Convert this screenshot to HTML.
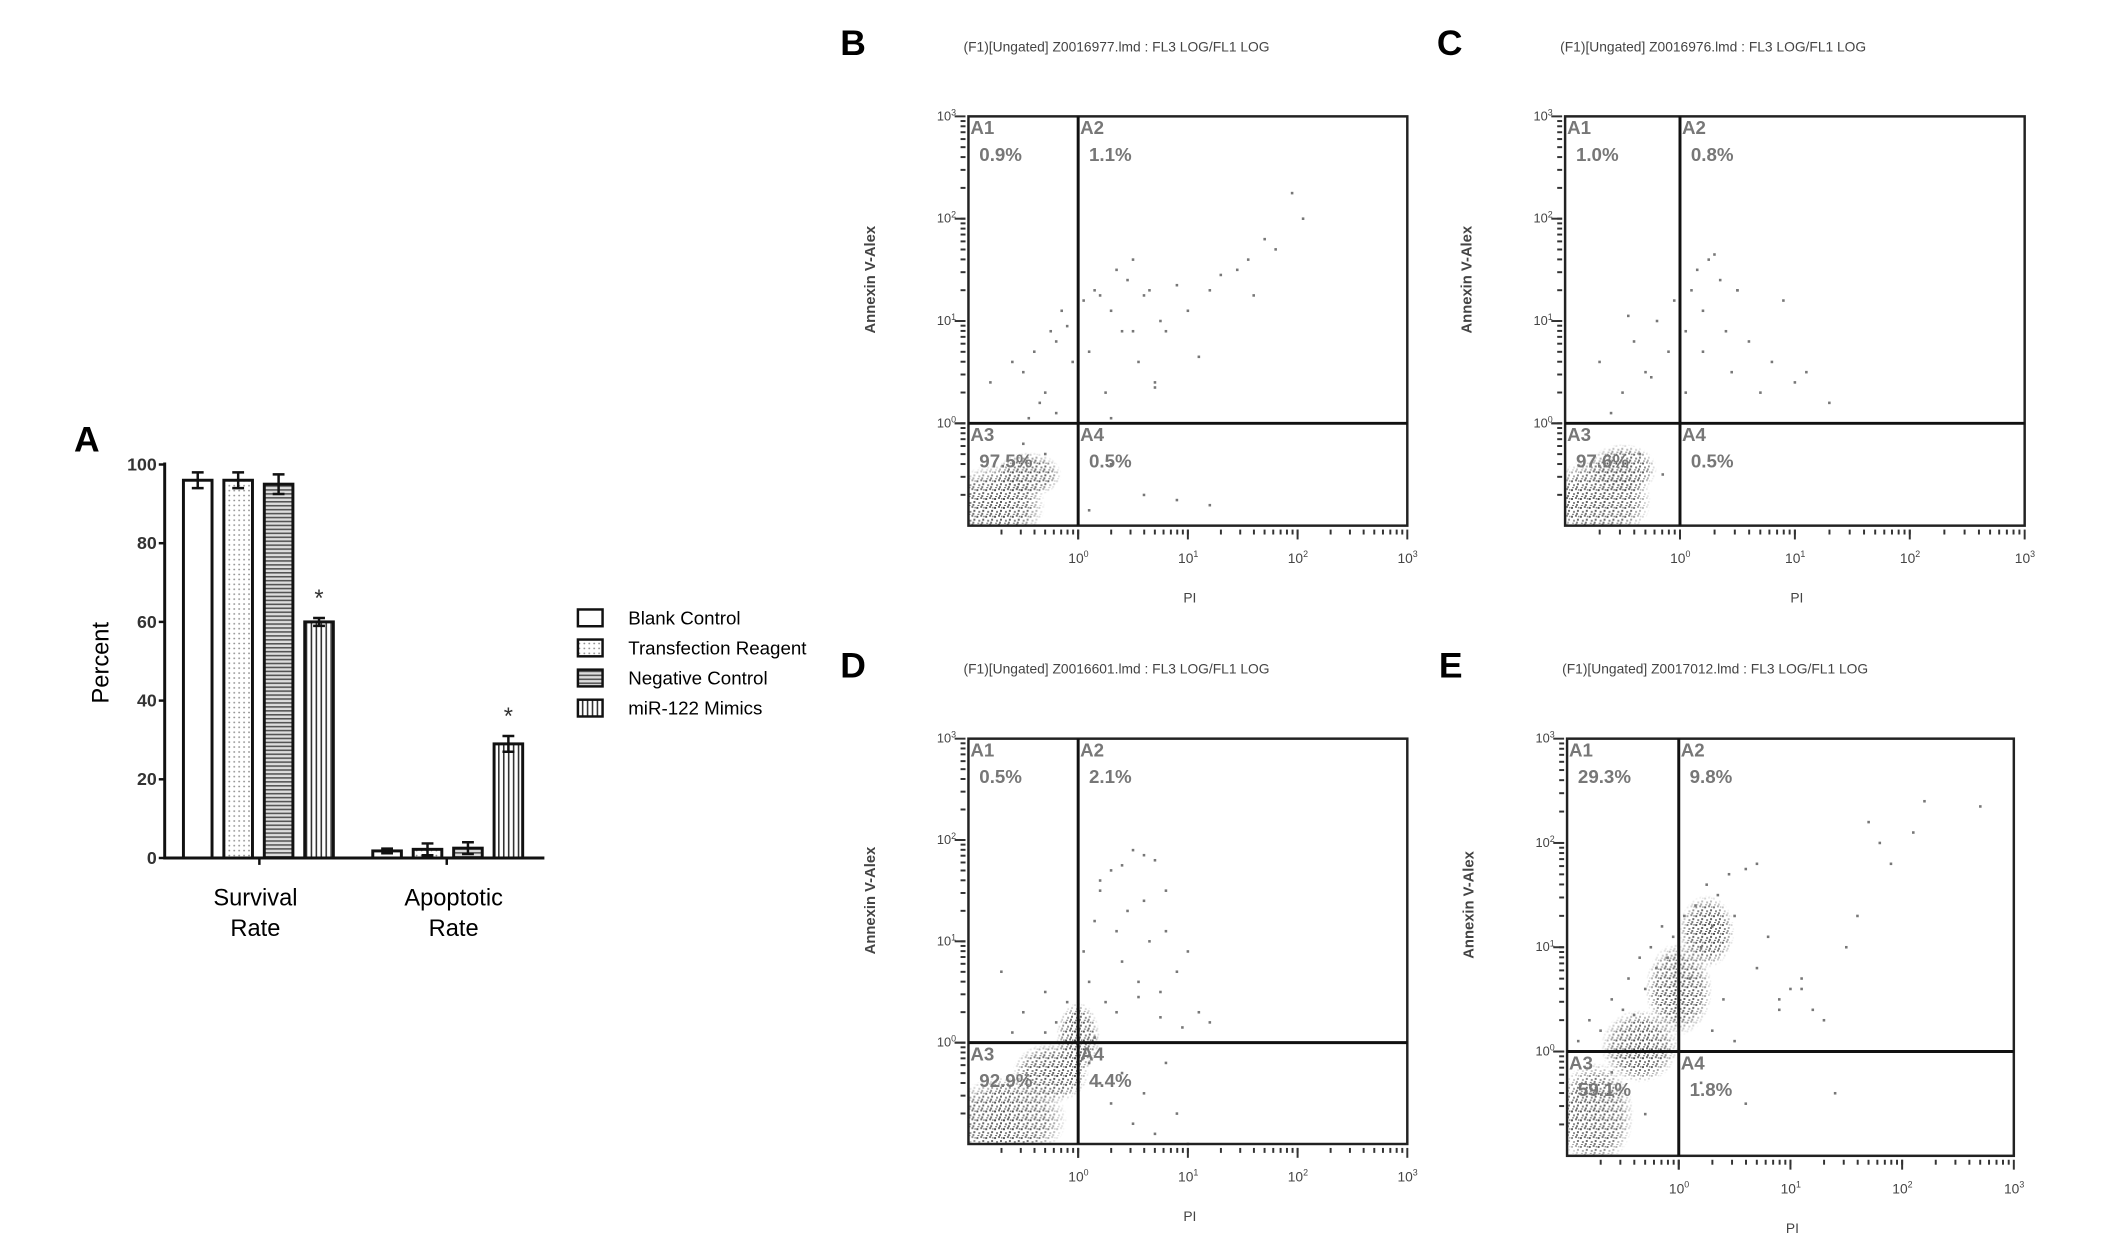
<!DOCTYPE html>
<html><head><meta charset="utf-8"><style>
body{margin:0;background:#fff;}
svg{display:block;}
text{font-family:"Liberation Sans",sans-serif;}
</style></head><body>
<svg id="fig" width="2126" height="1259" viewBox="0 0 2126 1259" xmlns="http://www.w3.org/2000/svg">
<defs>
<pattern id="pDots" width="5" height="5" patternUnits="userSpaceOnUse"><rect width="5" height="5" fill="#fff"/><circle cx="2.5" cy="2.5" r="0.9" fill="#888"/></pattern>
<pattern id="pHoriz" width="6" height="4" patternUnits="userSpaceOnUse"><rect width="6" height="4" fill="#ddd"/><rect y="0" width="6" height="1.6" fill="#555"/></pattern>
<pattern id="pVert" width="5" height="6" patternUnits="userSpaceOnUse"><rect width="5" height="6" fill="#fff"/><rect x="0" width="1.6" height="6" fill="#333"/></pattern>
<pattern id="speck" width="9" height="9" patternUnits="userSpaceOnUse"><rect x="0" y="1" width="2" height="2" fill="#444"/><rect x="4" y="0" width="2" height="2" fill="#666"/><rect x="6" y="4" width="2" height="2" fill="#555"/><rect x="2" y="5" width="2" height="2" fill="#777"/><rect x="1" y="8" width="2" height="1" fill="#555"/><rect x="5" y="7" width="2" height="2" fill="#666"/><rect x="7" y="1" width="1.5" height="1.5" fill="#777"/></pattern>
<radialGradient id="blobMask"><stop offset="0" stop-color="#fff" stop-opacity="1"/><stop offset="0.65" stop-color="#fff" stop-opacity="0.85"/><stop offset="1" stop-color="#fff" stop-opacity="0"/></radialGradient>
</defs>
<g transform="scale(0.9862)">
<g id="barChart"></g>
<g id="flow"></g>
</g>
</svg>
<script>
const NS="http://www.w3.org/2000/svg";
function mk(tag,attrs,parent,txt){const e=document.createElementNS(NS,tag);for(const k in attrs)e.setAttribute(k,attrs[k]);if(txt!==undefined)e.textContent=txt;parent.appendChild(e);return e;}

// ---------- Bar chart data ----------
const groups=["Survival Rate","Apoptotic Rate"];
const seriesNames=["Blank Control","Transfection Reagent","Negative Control","miR-122 Mimics"];
const survivalVals=[96,96,95,60];
const survivalErr=[2,2,2.5,1];
const apoptoticVals=[1.8,2.2,2.5,29];
const apoptoticErr=[0.6,1.5,1.5,2];
const yTicks=[0,20,40,60,80,100];
const sigFlags=[false,false,false,true];

const bc=document.getElementById('barChart');
const fills=["#fff","url(#pDots)","url(#pHoriz)","url(#pVert)"];
const X0=167,X1=552,Y0=870,Y100=471;
function ys(v){return Y0-(v/100)*(Y0-Y100);}
const groupStart=[186,378],barW=29,barStep=41;
mk('text',{x:75,y:458,'font-family':'Liberation Serif','font-size':36,'font-weight':'bold'},bc,'A');
const vals=[survivalVals,apoptoticVals],errs=[survivalErr,apoptoticErr];
vals.forEach((arr,g)=>{arr.forEach((v,i)=>{
  const x=groupStart[g]+i*barStep;
  const r=mk('rect',{x:x,y:ys(v),width:barW,height:Y0-ys(v),fill:fills[i],stroke:'#111','stroke-width':3},bc);
  
  
  const cx=x+barW/2,e=errs[g][i];
  const eb=mk('path',{d:`M${cx},${ys(v+e)}V${ys(v-e)}M${cx-6},${ys(v+e)}H${cx+6}M${cx-6},${ys(v-e)}H${cx+6}`,stroke:'#111','stroke-width':2.5,fill:'none'},bc);
  
  
  if(sigFlags[i]){const s=mk('text',{x:cx,y:ys(v+e)-12,'text-anchor':'middle','font-size':24,fill:'#333'},bc,'*');
    }
});});
mk('path',{d:`M${X0},${Y100-2}V${Y0}H${X1}`,stroke:'#111','stroke-width':3,fill:'none'},bc);
yTicks.forEach(t=>{mk('line',{x1:X0-6,x2:X0,y1:ys(t),y2:ys(t),stroke:'#111','stroke-width':2.5},bc);
  const tl=mk('text',{x:X0-8,y:ys(t)+6,'text-anchor':'end','font-size':18,'font-weight':'bold',fill:'#333'},bc,String(t));
  });
[263,453].forEach(x=>mk('line',{x1:x,x2:x,y1:Y0,y2:Y0+7,stroke:'#111','stroke-width':2.5},bc));
const yt=mk('text',{transform:'translate(110,672) rotate(-90)','text-anchor':'middle','font-size':24},bc,'Percent');

[[259,'Survival'],[460,'Apoptotic']].forEach(([x,w],i)=>{
  const t=mk('text',{x:x,y:918,'text-anchor':'middle','font-size':24},bc,w);
  mk('text',{x:x,y:949,'text-anchor':'middle','font-size':24},bc,'Rate');});
seriesNames.forEach((n,i)=>{const y=626+i*30.5;
  const g=mk('g',{},bc);
  mk('rect',{x:586,y:y-8,width:25,height:17,fill:fills[i],stroke:'#111','stroke-width':2.5},g);
  mk('text',{x:637,y:y+7,'font-size':19},g,n);});

// ---------- Flow cytometry data (log10 units) ----------
const titles=["(F1)[Ungated] Z0016977.lmd : FL3 LOG/FL1 LOG","(F1)[Ungated] Z0016976.lmd : FL3 LOG/FL1 LOG","(F1)[Ungated] Z0016601.lmd : FL3 LOG/FL1 LOG","(F1)[Ungated] Z0017012.lmd : FL3 LOG/FL1 LOG"];
const letters=["B","C","D","E"];
const pctB=["0.9%","1.1%","97.5%","0.5%"];
const pctC=["1.0%","0.8%","97.6%","0.5%"];
const pctD=["0.5%","2.1%","92.9%","4.4%"];
const pctE=["29.3%","9.8%","59.1%","1.8%"];
const bX=[-0.8,-0.6,-0.5,-0.4,-0.35,-0.3,-0.25,-0.2,-0.15,-0.1,-0.05,0.05,0.1,0.15,0.2,0.3,0.35,0.4,0.45,0.5,0.55,0.6,0.65,0.7,0.75,0.8,0.9,1.0,1.1,1.2,1.3,1.45,1.55,1.6,1.7,1.8,1.95,2.05,0.25,0.5,0.7,0.3,-0.2,-0.45,0.3,0.6,0.9,1.2,0.1,-0.3,-0.5];
const bY=[0.4,0.6,0.5,0.7,0.2,0.3,0.9,0.8,1.1,0.95,0.6,1.2,0.7,1.3,1.25,1.1,1.5,0.9,1.4,1.6,0.6,1.25,1.3,0.4,1.0,0.9,1.35,1.1,0.65,1.3,1.45,1.5,1.6,1.25,1.8,1.7,2.25,2.0,0.3,0.9,0.35,0.05,0.1,0.05,-0.4,-0.7,-0.75,-0.8,-0.85,-0.3,-0.2];
const cX=[-0.7,-0.5,-0.4,-0.3,-0.2,-0.1,-0.05,0.05,0.1,0.15,0.2,0.25,0.3,0.35,0.4,0.45,0.5,0.6,0.7,0.8,1.0,1.3,-0.6,-0.45,-0.25,0.05,0.2,0.5,0.9,1.1,-0.35,-0.15];
const cY=[0.6,0.3,0.8,0.5,1.0,0.7,1.2,0.9,1.3,1.5,1.1,1.6,1.65,1.4,0.9,0.5,1.3,0.8,0.3,0.6,0.4,0.2,0.1,1.05,0.45,0.3,0.7,1.3,1.2,0.5,-0.3,-0.5];
const dX=[-0.7,-0.5,-0.3,-0.2,-0.1,0.0,0.05,0.1,0.15,0.2,0.25,0.3,0.35,0.4,0.45,0.5,0.55,0.6,0.65,0.7,0.75,0.8,0.9,1.0,1.1,1.2,0.1,0.2,0.3,0.4,0.5,0.6,0.7,0.8,0.9,1.0,0.2,0.4,0.6,0.8,-0.3,-0.6,0.15,0.35,0.55,0.75,0.95];
const dY=[0.7,0.3,0.5,0.2,0.4,0.2,0.9,0.6,1.2,1.5,0.4,1.7,1.1,0.8,1.3,1.9,0.6,1.4,1.0,1.8,0.5,1.1,0.7,0.9,0.3,0.2,-0.2,-0.4,-0.6,-0.3,-0.8,-0.5,-0.9,-0.2,-0.7,-1.0,1.6,1.75,1.85,1.5,0.1,0.1,0.05,0.3,0.45,0.25,0.15];
const eX=[-0.9,-0.8,-0.7,-0.6,-0.5,-0.45,-0.4,-0.35,-0.3,-0.25,-0.2,-0.15,-0.1,-0.05,0.05,0.1,0.15,0.2,0.25,0.3,0.35,0.4,0.45,0.5,0.6,0.7,0.8,0.9,1.0,1.1,1.2,1.3,1.5,1.6,1.7,1.8,1.9,2.1,2.2,2.7,0.3,0.5,0.7,0.9,1.1,0.2,0.6,1.4,-0.6,-0.3];
const eY=[0.1,0.3,0.2,0.5,0.4,0.7,0.35,0.9,0.6,1.0,0.8,1.2,0.9,1.1,1.3,0.7,1.4,1.0,1.6,1.2,1.5,0.5,1.7,1.3,1.75,1.8,1.1,0.5,0.6,0.7,0.4,0.3,1.0,1.3,2.2,2.0,1.8,2.1,2.4,2.35,0.2,0.1,0.8,0.4,0.6,-0.3,-0.5,-0.4,-0.2,-0.6];
const panelPts=[[bX,bY],[cX,cY],[dX,dY],[eX,eY]];
// dense clusters: [cx, cy, rx, ry] in log10 units
const bClusters=[[-0.75,-0.8,0.45,0.4],[-0.45,-0.5,0.3,0.22]];
const cClusters=[[-0.7,-0.75,0.45,0.42],[-0.5,-0.45,0.3,0.25]];
const dClusters=[[-0.65,-0.75,0.55,0.42],[-0.25,-0.3,0.35,0.3],[0.0,0.05,0.2,0.35]];
const eClusters=[[-0.75,-0.6,0.35,0.5],[-0.35,0.05,0.35,0.35],[0.0,0.6,0.3,0.45],[0.25,1.15,0.25,0.35]];
const panelClusters=[bClusters,cClusters,dClusters,eClusters];
const panelPcts=[pctB,pctC,pctD,pctE];
const decadeLabels=["0","1","2","3"];

const boxes=[[982,118,1427,533],[1587,118,2053,533],[982,749,1427,1160],[1589,749,2042,1172]];
const fl=document.getElementById('flow');
const defs=document.querySelector('defs');
boxes.forEach((b,p)=>{
  const [L,T,R,B]=b;
  const sx=v=>L+(v+1)/4*(R-L), sy=v=>B-(v+1)/4*(B-T);
  const g=mk('g',{},fl);
  mk('text',{x:L-130,y:T-62,'font-family':'Liberation Serif','font-size':36,'font-weight':'bold'},g,letters[p]);
  mk('text',{x:L-5,y:T-66,'font-size':14,fill:'#444'},g,titles[p]);
  const clipId='clip'+p;
  const cp=mk('clipPath',{id:clipId},defs);mk('rect',{x:L,y:T,width:R-L,height:B-T},cp);
  const cg=mk('g',{'clip-path':`url(#${clipId})`},g);
  panelClusters[p].forEach((c,ci)=>{
    const mid='m'+p+'_'+ci;
    const m=mk('mask',{id:mid},defs);
    mk('ellipse',{cx:sx(c[0]),cy:sy(c[1]),rx:c[2]/4*(R-L),ry:c[3]/4*(B-T),fill:'url(#blobMask)'},m);
    const el=mk('rect',{x:L,y:T,width:R-L,height:B-T,fill:'url(#speck)',mask:`url(#${mid})`},cg);
    });
  const [px,py]=panelPts[p];
  px.forEach((x,i)=>{const d=mk('rect',{x:sx(x)-1.3,y:sy(py[i])-1.3,width:2.6,height:2.6,fill:'#777'},g);
    });
  mk('rect',{x:L,y:T,width:R-L,height:B-T,fill:'none',stroke:'#222','stroke-width':2.5},g);
  mk('line',{x1:sx(0),x2:sx(0),y1:T,y2:B,stroke:'#111','stroke-width':3},g);
  mk('line',{x1:L,x2:R,y1:sy(0),y2:sy(0),stroke:'#111','stroke-width':3},g);
  for(let d=-1;d<3;d++){for(let k=1;k<=10;k++){const v=d+Math.log10(k);if(k==1&&d==-1)continue;
    const maj=(k==10);
    mk('line',{x1:sx(v),x2:sx(v),y1:B+4,y2:B+(maj?14:9),stroke:'#333','stroke-width':2},g);
    mk('line',{x1:L-(maj?14:8),x2:L-3,y1:sy(v),y2:sy(v),stroke:'#333','stroke-width':2},g);}}
  mk('line',{x1:L-14,x2:L-3,y1:sy(0),y2:sy(0),stroke:'#333','stroke-width':2},g);
  mk('line',{x1:sx(0),x2:sx(0),y1:B+4,y2:B+14,stroke:'#333','stroke-width':2},g);
  decadeLabels.forEach((lab,i)=>{const v=i;
    const xl=mk('text',{x:sx(v)-10,y:B+38,'font-size':14,fill:'#444'},g);xl.innerHTML='10<tspan dy="-6" font-size="9">'+lab+'</tspan>';
    
    const yl=mk('text',{x:L-32,y:sy(v)+4,'font-size':13,fill:'#444'},g);yl.innerHTML='10<tspan dy="-5" font-size="9">'+lab+'</tspan>';
    });
  mk('text',{x:(L+R)/2+2,y:B+78,'text-anchor':'middle','font-size':14,fill:'#444'},g,'PI');
  mk('text',{transform:`translate(${L-95},${(T+sy(0))/2+10}) rotate(-90)`,'text-anchor':'middle','font-size':15,'font-weight':'bold',fill:'#444'},g,'Annexin V-Alex');
  const pc=panelPcts[p];
  const q=[[L+2,T+18,'A1',pc[0]],[sx(0)+2,T+18,'A2',pc[1]],[L+2,sy(0)+18,'A3',pc[2]],[sx(0)+2,sy(0)+18,'A4',pc[3]]];
  q.forEach(a=>{const qg=mk('g',{},g);
    mk('text',{x:a[0],y:a[1],'font-size':19,'font-weight':'bold',fill:'#777'},qg,a[2]);
    mk('text',{x:a[0]+9,y:a[1]+27,'font-size':19,'font-weight':'bold',fill:'#777'},qg,a[3]);});
});
</script>
</body></html>
